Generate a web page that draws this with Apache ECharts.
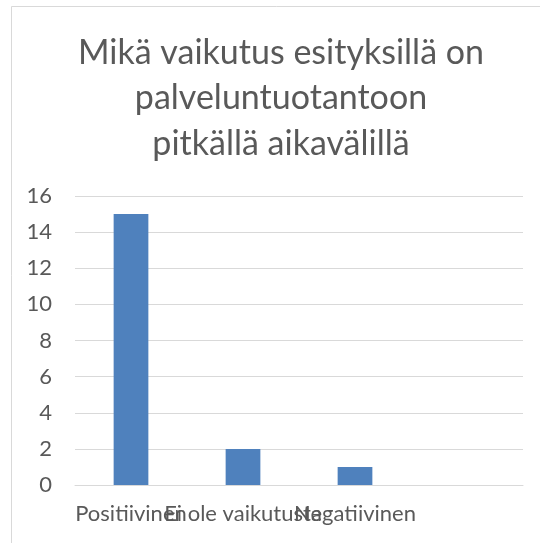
<!DOCTYPE html>
<html>
<head>
<meta charset="utf-8">
<script src="https://cdn.jsdelivr.net/npm/echarts@6/dist/echarts.min.js"></script>
<style>
html,body{margin:0;padding:0;background:#fff;}
#c{width:540px;height:543px;}
</style>
</head>
<body>
<div id="c"></div>
<script>
var titleText = 'Mikä vaikutus esityksillä on\npalveluntuotantoon\npitkällä aikavälillä';
var categories = ['Positiivinen', 'Ei ole vaikutusta', 'Negatiivinen', ''];
var values = [15, 2, 1, null];
var yMin = 0, yMax = 16, yStep = 2;

var chart = echarts.init(document.getElementById('c'), null, {renderer: 'canvas'});
chart.setOption({
  animation: false,
  backgroundColor: '#fff',
  textStyle: {fontFamily: 'Lato'},
  graphic: [{
    type: 'rect', silent: true, z: -1,
    shape: {x: 11.5, y: 6.5, width: 700, height: 700},
    style: {fill: 'none', stroke: '#d9d9d9', lineWidth: 1}
  }],
  title: {
    text: titleText,
    left: 276,
    top: 25,
    textAlign: 'center',
    textStyle: {fontFamily: 'Lato', fontWeight: 'normal', fontSize: 34, lineHeight: 45.5, color: '#595959'}
  },
  grid: {left: 75, right: 17, top: 196, bottom: 58, containLabel: false},
  xAxis: {
    type: 'category',
    data: categories,
    axisLine: {show: true, lineStyle: {color: '#d9d9d9', width: 1}},
    axisTick: {show: false},
    axisLabel: {interval: 0, color: '#595959', fontSize: 22, fontFamily: 'Lato', margin: 18}
  },
  yAxis: {
    type: 'value',
    min: yMin, max: yMax, interval: yStep,
    axisLine: {show: false},
    axisTick: {show: false},
    splitLine: {lineStyle: {color: '#d9d9d9', width: 1}},
    axisLabel: {color: '#595959', fontSize: 22, fontFamily: 'Lato', margin: 23}
  },
  series: [{
    type: 'bar',
    data: values,
    barCategoryGap: '69%',
    itemStyle: {color: '#4f81bd'}
  }]
});
</script>
</body>
</html>
